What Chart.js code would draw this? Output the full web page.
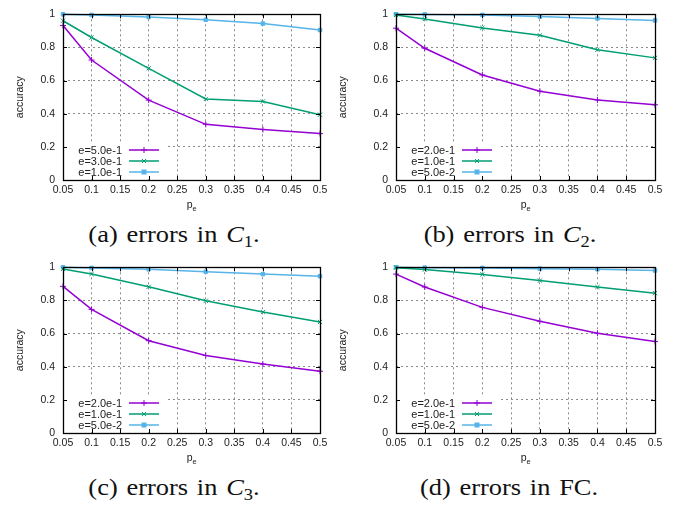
<!DOCTYPE html>
<html>
<head>
<meta charset="utf-8">
<script src="https://cdn.jsdelivr.net/npm/chart.js@4.4.0/dist/chart.umd.min.js"></script>
<style>
  body { margin: 0; background: #fff; }
  #page { position: relative; width: 682px; height: 506px; overflow: hidden; }
  canvas { position: absolute; }
  .cap { position: absolute; font-family: "Liberation Serif", "DejaVu Serif", serif; font-size: 24px;
         color: #111; white-space: nowrap; transform: translateX(-50%) scaleX(1.1); line-height: 1;
         word-spacing: 2px; }
  .cap sub { font-size: 70%; vertical-align: -0.3em; line-height: 0; }
</style>
</head>
<body>
<div id="page">
  <canvas id="c1" width="332" height="215" style="left:0;top:0"></canvas>
  <canvas id="c2" width="350" height="215" style="left:332px;top:0"></canvas>
  <canvas id="c3" width="332" height="215" style="left:0;top:253px"></canvas>
  <canvas id="c4" width="350" height="215" style="left:332px;top:253px"></canvas>
  <div class="cap" style="left:174px;top:222px">(a) errors in <i>C</i><sub>1</sub>.</div>
  <div class="cap" style="left:510px;top:222px">(b) errors in <i>C</i><sub>2</sub>.</div>
  <div class="cap" style="left:174px;top:475px">(c) errors in <i>C</i><sub>3</sub>.</div>
  <div class="cap" style="left:509px;top:475px">(d) errors in FC.</div>
</div>
<script>
var pe = [0.05, 0.1, 0.2, 0.3, 0.4, 0.5];
var labelsC1 = ['e=5.0e-1', 'e=3.0e-1', 'e=1.0e-1'];
var labelsOther = ['e=2.0e-1', 'e=1.0e-1', 'e=5.0e-2'];

var c1High = [0.932, 0.724, 0.482, 0.336, 0.305, 0.280];
var c1Mid  = [0.961, 0.860, 0.674, 0.489, 0.474, 0.394];
var c1Low  = [1.000, 0.996, 0.983, 0.967, 0.944, 0.905];

var c2High = [0.916, 0.795, 0.634, 0.536, 0.483, 0.454];
var c2Mid  = [0.996, 0.971, 0.918, 0.873, 0.786, 0.737];
var c2Low  = [1.000, 0.999, 0.996, 0.986, 0.975, 0.963];

var c3High = [0.885, 0.746, 0.557, 0.468, 0.416, 0.373];
var c3Mid  = [0.990, 0.959, 0.882, 0.798, 0.730, 0.670];
var c3Low  = [1.000, 0.996, 0.988, 0.973, 0.959, 0.946];

var fcHigh = [0.959, 0.881, 0.758, 0.674, 0.602, 0.552];
var fcMid  = [0.998, 0.986, 0.957, 0.920, 0.881, 0.844];
var fcLow  = [1.000, 0.998, 0.996, 0.992, 0.988, 0.981];

var xTicks = [0.05, 0.1, 0.15, 0.2, 0.25, 0.3, 0.35, 0.4, 0.45, 0.5];

var colors = ['#9400d3', '#009e73', '#56b4e9'];
var styles = ['cross', 'crossRot', 'rect'];
var sans = '"Liberation Sans", Arial, sans-serif';

function marker(ctx, style, x, y, color) {
    ctx.save();
    ctx.strokeStyle = color;
    ctx.fillStyle = color;
    ctx.lineWidth = 1;
    ctx.setLineDash([]);
    ctx.beginPath();
    if (style == 'cross') {
        ctx.moveTo(x - 3, y); ctx.lineTo(x + 3, y);
        ctx.moveTo(x, y - 3); ctx.lineTo(x, y + 3);
        ctx.stroke();
    } else if (style == 'crossRot') {
        ctx.moveTo(x - 2, y - 2); ctx.lineTo(x + 2, y + 2);
        ctx.moveTo(x - 2, y + 2); ctx.lineTo(x + 2, y - 2);
        ctx.stroke();
    } else {
        ctx.fillRect(x - 2.5, y - 2.5, 5, 5);
    }
    ctx.restore();
}

// gnuplot style frame, inner tick marks, key and axis titles
var framePlugin = {
    id: 'frame',
    afterDraw: function (chart, args, opts) {
        var ctx = chart.ctx;
        var a = chart.chartArea;
        var xs = chart.scales.x, ys = chart.scales.y;

        // key box
        ctx.save();
        ctx.fillStyle = '#fff';
        ctx.fillRect(a.left + 1, a.bottom - 37, 101, 36);
        ctx.font = '11px ' + sans;
        ctx.textAlign = 'right';
        ctx.textBaseline = 'middle';
        chart.data.datasets.forEach(function (ds, i) {
            var y = a.bottom - 30 + i * 11;
            ctx.fillStyle = '#222';
            ctx.fillText(ds.label, a.left + 59, y + 0.5);
            ctx.strokeStyle = ds.borderColor;
            ctx.lineWidth = 1.5;
            ctx.beginPath();
            ctx.moveTo(a.left + 66, y);
            ctx.lineTo(a.left + 96, y);
            ctx.stroke();
            marker(ctx, styles[i], a.left + 81, y, ds.borderColor);
        });
        ctx.restore();

        // tick marks inside the frame
        ctx.save();
        ctx.strokeStyle = '#000';
        ctx.lineWidth = 1;
        ctx.beginPath();
        xs.ticks.forEach(function (t) {
            var x = Math.round(xs.getPixelForValue(t.value)) + 0.5;
            ctx.moveTo(x, a.bottom); ctx.lineTo(x, a.bottom - 4);
            ctx.moveTo(x, a.top); ctx.lineTo(x, a.top + 4);
        });
        ys.ticks.forEach(function (t) {
            var y = Math.round(ys.getPixelForValue(t.value)) + 0.5;
            ctx.moveTo(a.left, y); ctx.lineTo(a.left + 4, y);
            ctx.moveTo(a.right, y); ctx.lineTo(a.right - 4, y);
        });
        ctx.stroke();
        ctx.lineWidth = 1.3;
        ctx.strokeRect(Math.round(a.left) + 0.5, Math.round(a.top) + 0.5,
                       Math.round(a.right - a.left), Math.round(a.bottom - a.top));
        ctx.restore();

        // axis titles
        ctx.save();
        ctx.fillStyle = '#222';
        ctx.font = '10.5px ' + sans;
        ctx.textBaseline = 'alphabetic';
        var cx = (a.left + a.right) / 2;
        ctx.textAlign = 'right';
        ctx.fillText('p', cx + 1, a.bottom + 28);
        ctx.font = '7.5px ' + sans;
        ctx.textAlign = 'left';
        ctx.fillText('e', cx + 1, a.bottom + 31);
        ctx.translate(a.left - opts.titleOffset, (a.top + a.bottom) / 2);
        ctx.rotate(-Math.PI / 2);
        ctx.font = '10.5px ' + sans;
        ctx.textAlign = 'center';
        ctx.textBaseline = 'middle';
        ctx.fillText('accuracy', 0, 0);
        ctx.restore();
    }
};

function makeChart(id, labels, series, leftWidth, rightPad, titleOffset) {
    var datasets = [];
    for (var i = 0; i < series.length; i++) {
        var pts = [];
        for (var j = 0; j < pe.length; j++) {
            pts.push({ x: pe[j], y: series[i][j] });
        }
        datasets.push({
            label: labels[i],
            data: pts,
            borderColor: colors[i],
            backgroundColor: colors[i],
            borderWidth: 1.5,
            pointStyle: styles[i],
            pointRadius: i == 2 ? 2.5 : 3,
            pointBorderWidth: 1,
            tension: 0,
            clip: false
        });
    }
    var ctx = document.getElementById(id).getContext('2d');
    return new Chart(ctx, {
        type: 'line',
        data: { datasets: datasets },
        options: {
            responsive: false,
            animation: false,
            layout: { padding: { top: 8, right: rightPad, left: 0, bottom: 0 } },
            plugins: {
                legend: { display: false },
                tooltip: { enabled: false },
                frame: { titleOffset: titleOffset }
            },
            scales: {
                x: {
                    type: 'linear',
                    min: 0.05,
                    max: 0.5,
                    afterFit: function (s) { s.height = 35; },
                    afterBuildTicks: function (s) {
                        s.ticks = xTicks.map(function (v) { return { value: v }; });
                    },
                    ticks: {
                        padding: 4,
                        color: '#222',
                        font: { family: sans, size: 10.5 },
                        maxRotation: 0,
                        autoSkip: false,
                        callback: function (v) { return String(Math.round(v * 100) / 100); }
                    },
                    grid: { color: '#8a8a8a', lineWidth: 1, drawTicks: false },
                    border: { display: false, dash: [2, 3] }
                },
                y: {
                    min: 0,
                    max: 1,
                    afterFit: function (s) { s.width = leftWidth; },
                    ticks: {
                        stepSize: 0.2,
                        padding: 8,
                        color: '#222',
                        font: { family: sans, size: 10.5 },
                        callback: function (v) { return String(Math.round(v * 10) / 10); }
                    },
                    grid: { color: '#8a8a8a', lineWidth: 1, drawTicks: false },
                    border: { display: false, dash: [2, 3] }
                }
            }
        },
        plugins: [framePlugin]
    });
}

makeChart('c1', labelsC1, [c1High, c1Mid, c1Low], 63, 12, 43);
makeChart('c2', labelsOther, [c2High, c2Mid, c2Low], 64, 27, 53);
makeChart('c3', labelsOther, [c3High, c3Mid, c3Low], 63, 12, 43);
makeChart('c4', labelsOther, [fcHigh, fcMid, fcLow], 64, 27, 53);
</script>
</body>
</html>
